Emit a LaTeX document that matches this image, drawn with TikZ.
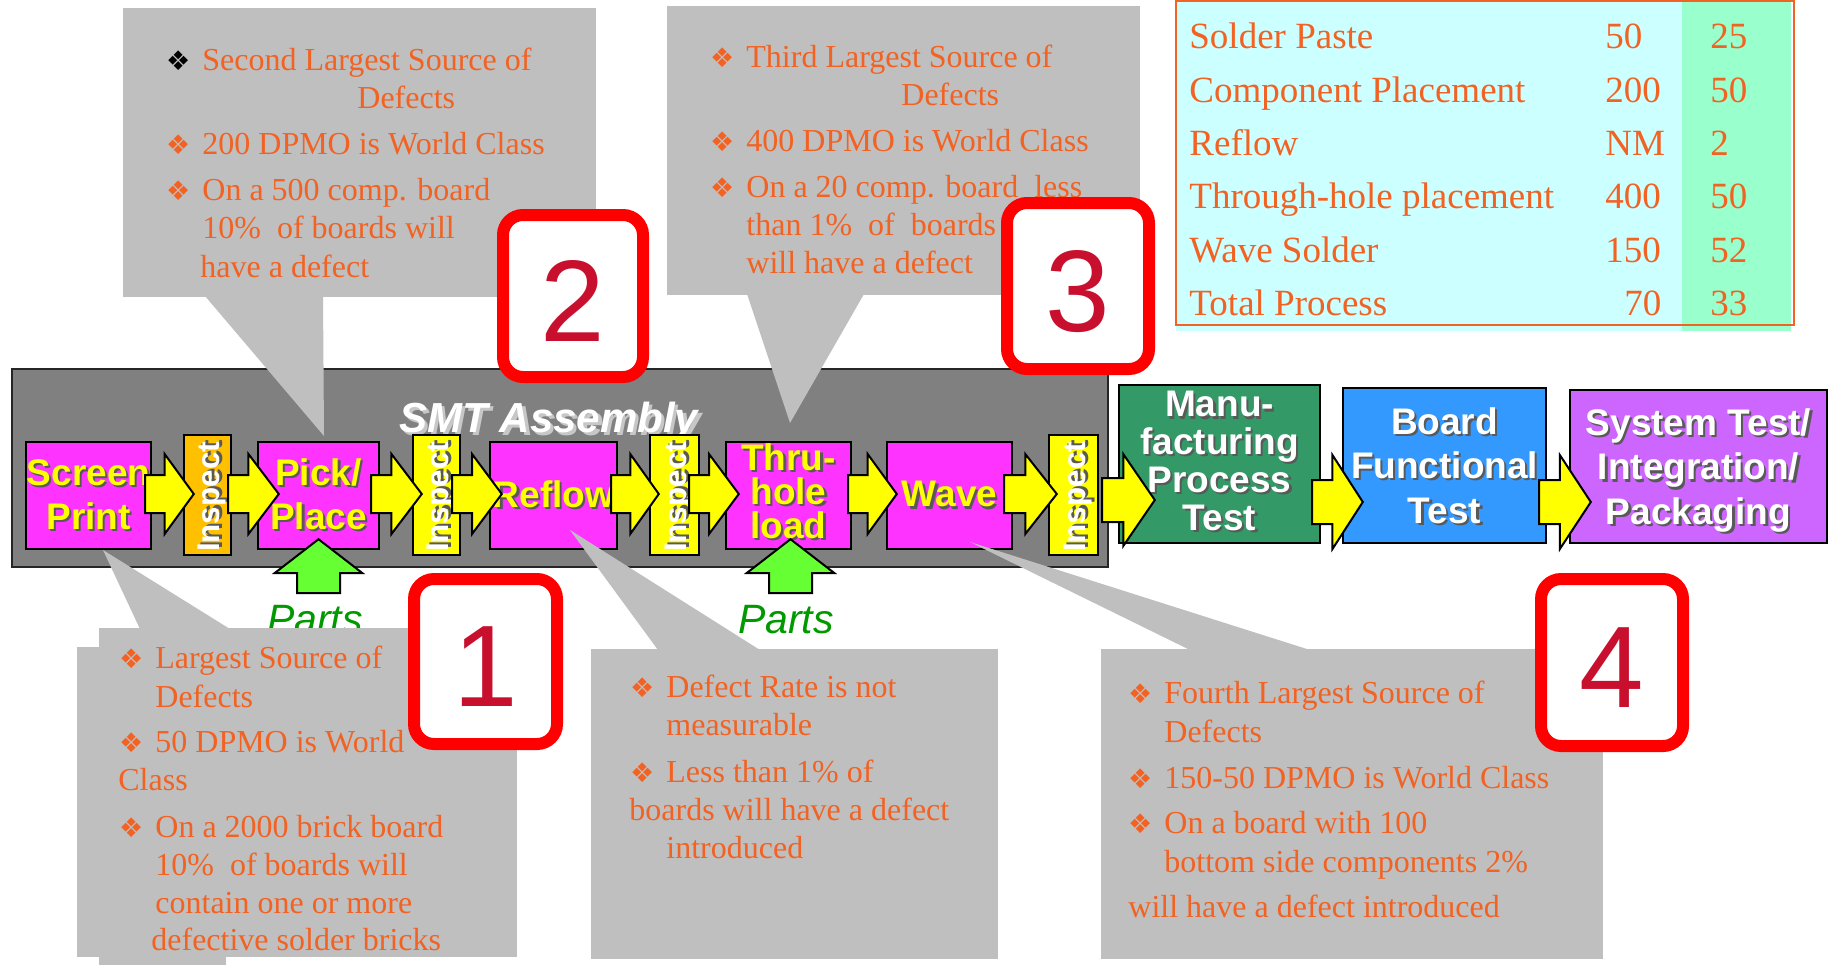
\documentclass[tikz,border=0pt]{standalone}
\usepackage{fontspec}
\setmainfont{Liberation Serif}
\setsansfont{Liberation Sans}
\newfontfamily\dejavu{DejaVu Sans}
\usetikzlibrary{fit,calc}

\definecolor{smtgray}{RGB}{128,128,128}
\definecolor{callgray}{RGB}{191,191,191}
\definecolor{magbox}{RGB}{255,51,255}
\definecolor{inspor}{RGB}{255,192,0}
\definecolor{arryel}{RGB}{255,255,0}
\definecolor{mfgreen}{RGB}{51,153,102}
\definecolor{bfblue}{RGB}{51,153,255}
\definecolor{stpurple}{RGB}{204,102,255}
\definecolor{partsgreen}{RGB}{102,255,51}
\definecolor{partstext}{RGB}{0,153,0}
\definecolor{txtorange}{RGB}{242,98,34}
\definecolor{numred}{RGB}{200,16,46}
\definecolor{tabcyan}{RGB}{204,255,255}
\definecolor{tabgreen}{RGB}{153,255,204}

\newcommand\shd[2][black!65]{\leavevmode\rlap{\kern1.1pt\raisebox{-1.1pt}{\color{#1}#2}}#2}
\newcommand\tshd[1]{\leavevmode\rlap{\kern1.6pt\raisebox{-1.6pt}{\color{black!22}#1}}#1}
\newcommand\bul[1][txtorange]{\llap{\textcolor{#1}{\dejavu\fontsize{13.5}{13.5}\selectfont ❖}\hspace{6pt}}}

\newcommand\rarrow[4]{%
  \draw[blockarr] let \p1=(#1), \p2=(#2), \n1={0.4*(\x2-\x1)} in
  (\x1,\y1+#3) -- ({\x1+\n1*1pt},\y1+#3) -- ({\x1+\n1*1pt},\y1+#4) -- (\x2,\y1)
  -- ({\x1+\n1*1pt},\y1-#4) -- ({\x1+\n1*1pt},\y1-#3) -- (\x1,\y1-#3) -- cycle;}
\newcommand\uarrow[1]{%
  \draw[partsarr] let \p1=(#1) in
  (\x1,\y1) -- (\x1+22pt,\y1-17pt) -- (\x1+10.75pt,\y1-17pt) -- (\x1+10.75pt,\y1-27pt)
  -- (\x1-10.75pt,\y1-27pt) -- (\x1-10.75pt,\y1-17pt) -- (\x1-22pt,\y1-17pt) -- cycle;}

\begin{document}
\begin{tikzpicture}[x=0.5pt,y=-0.5pt,
  smtbox/.style={fill=smtgray, draw=black!85, line width=1.3pt, inner sep=0pt},
  pbox/.style={fill=magbox, draw=black, line width=1.2pt, inner sep=0pt},
  ibox/.style={fill=arryel, draw=black, line width=1.2pt, inner sep=0pt},
  rbox/.style={draw=black, line width=1.2pt, inner sep=0pt},
  ptext/.style={font=\sffamily\bfseries\fontsize{18.5}{22}\selectfont, text=arryel, align=center, inner sep=0pt},
  rtext/.style={font=\sffamily\bfseries\fontsize{18.5}{22.25}\selectfont, text=white, align=center, inner sep=0pt},
  itext/.style={font=\sffamily\bfseries\fontsize{15.7}{18}\selectfont, text=white, rotate=90, inner sep=0pt},
  ctext/.style={anchor=base west, inner sep=0pt, text=txtorange, font=\fontsize{16}{19}\selectfont},
  ttext/.style={anchor=base west, inner sep=0pt, text=txtorange, font=\fontsize{18.5}{22}\selectfont},
  numbox/.style={draw=red, line width=6pt, fill=white, rounded corners=10pt, inner sep=0pt},
  numtext/.style={anchor=base, inner sep=0pt, text=numred, font=\sffamily\fontsize{58}{58}\selectfont},
  blockarr/.style={fill=arryel, draw=black, line width=1pt, line join=miter},
  partsarr/.style={fill=partsgreen, draw=black, line width=1pt, line join=miter},
  partslbl/.style={anchor=base, inner sep=0pt, text=partstext, font=\sffamily\itshape\fontsize{20.5}{20.5}\selectfont}]

\fill[white] (0,0) rectangle (1839,965);
\useasboundingbox (0,0) rectangle (1839,965);

% ---------- table ----------
\fill[tabcyan] (1176,0) rectangle (1791,331);
\fill[tabgreen] (1682,0) rectangle (1791,331);
\draw[txtorange, line width=1pt] (1176,1) rectangle (1794,325);
\node[ttext] (t1a) at (1189,48) {Solder Paste};
\node[ttext] (t1b) at (1605,48) {50};
\node[ttext] (t1c) at (1710,48) {25};
\node[ttext] (t2a) at (1189,102) {Component Placement};
\node[ttext] (t2b) at (1605,102) {200};
\node[ttext] (t2c) at (1710,102) {50};
\node[ttext] (t3a) at (1189,155) {Reflow};
\node[ttext] (t3b) at (1605,155) {NM};
\node[ttext] (t3c) at (1710,155) {2};
\node[ttext] (t4a) at (1189,208) {Through-hole placement};
\node[ttext] (t4b) at (1605,208) {400};
\node[ttext] (t4c) at (1710,208) {50};
\node[ttext] (t5a) at (1189,262) {Wave Solder};
\node[ttext] (t5b) at (1605,262) {150};
\node[ttext] (t5c) at (1710,262) {52};
\node[ttext] (t6a) at (1189,315) {Total Process};
\node[ttext] (t6b) at (1624,315) {70};
\node[ttext] (t6c) at (1710,315) {33};

% ---------- SMT frame ----------
\node[smtbox, fit={(12,369) (1108,567)}] (smt) {};

% ---------- upper callouts ----------
\fill[callgray] (123,8) rectangle (596,297);
\fill[callgray] (205,296) -- (323,296) -- (324,436) -- cycle;
\node[ctext] (c2a) at (202,70) {\bul[black]Second Largest Source of};
\node[ctext] (c2b) at (357,108) {Defects};
\node[ctext] (c2c) at (202,154) {\bul 200 DPMO is World Class};
\node[ctext] (c2d) at (202,200) {\bul On a 500 comp. board};
\node[ctext] (c2e) at (202,238) {10\%~ of boards will};
\node[ctext] (c2f) at (200,277) {have a defect};

\fill[callgray] (667,6) rectangle (1140,295);
\fill[callgray] (747,294) -- (864,294) -- (790,423) -- cycle;
\node[ctext] (c3a) at (746,67) {\bul Third Largest Source of};
\node[ctext] (c3b) at (901,105) {Defects};
\node[ctext] (c3c) at (746,151) {\bul 400 DPMO is World Class};
\node[ctext] (c3d) at (746,197) {\bul On a 20 comp. board~ less};
\node[ctext] (c3e) at (746,235) {than 1\%~ of~ boards};
\node[ctext] (c3f) at (746,273) {will have a defect};

\node[numbox, fit={(503,215) (643,377)}] (n2) {};
\node[numtext] (n2t) at ($(n2.center)+(0,45)$) {2};
\node[numbox, fit={(1007,203) (1149,369)}] (n3) {};
\node[numtext] (n3t) at ($(n3.center)+(0,45)$) {3};

% ---------- title ----------
\node[anchor=base, inner sep=0pt, text=white, font=\sffamily\bfseries\itshape\fontsize{21}{21}\selectfont] (title) at (549,432) {\tshd{SMT Assembly}};

% ---------- process boxes ----------
\node[pbox, fit={(26,442) (151,549)}] (sp) {};
\node[ibox, fill=inspor, fit={(184,435) (231,555)}] (i1) {};
\node[pbox, fit={(258,442) (379,549)}] (pp) {};
\node[ibox, fit={(413,435) (460,555)}] (i2) {};
\node[pbox, fit={(490,442) (617,549)}] (rf) {};
\node[ibox, fit={(650,435) (699,555)}] (i3) {};
\node[pbox, fit={(726,442) (851,549)}] (th) {};
\node[pbox, fit={(887,442) (1012,549)}] (wv) {};
\node[ibox, fit={(1049,435) (1098,555)}] (i4) {};
\node[rbox, fill=mfgreen, fit={(1119,385) (1320,543)}] (mf) {};
\node[rbox, fill=bfblue, fit={(1343,388) (1546,543)}] (bf) {};
\node[rbox, fill=stpurple, fit={(1570,390) (1827,543)}] (st) {};

\node[ptext] (spt) at (sp.center) {\shd{Screen}\\\shd{Print}};
\node[ptext] (ppt) at (pp.center) {\shd{Pick/}\\\shd{Place}};
\node[ptext] (rft) at (rf.center) {\shd{Reflow}};
\node[ptext, font=\sffamily\bfseries\fontsize{18.5}{17}\selectfont] (tht) at ($(th.center)+(0,-3)$) {\shd{Thru-}\\\shd{hole}\\\shd{load}};
\node[ptext] (wvt) at (wv.center) {\shd{Wave}};
\node[itext] (i1t) at ($(i1.center)+(6,2)$) {\shd{Inspect}};
\node[itext] (i2t) at ($(i2.center)+(6,2)$) {\shd{Inspect}};
\node[itext] (i3t) at ($(i3.center)+(6,2)$) {\shd{Inspect}};
\node[itext] (i4t) at ($(i4.center)+(6,2)$) {\shd{Inspect}};
\node[rtext, font=\sffamily\bfseries\fontsize{18.5}{18.85}\selectfont] (mft) at ($(mf.center)+(0,-2)$) {\shd{Manu-}\\\shd{facturing}\\\shd{Process}\\\shd{Test}};
\node[rtext] (bft) at ($(bf.center)+(0,1)$) {\shd{Board}\\\shd{Functional}\\\shd{Test}};
\node[rtext] (stt) at ($(st.center)+(0,5)$) {\shd{System Test/}\\\shd{Integration/}\\\shd{Packaging}};

% ---------- block arrows ----------
\rarrow{$(sp.east)+(-7,-1.5)$}{$(i1.west)+(11,0)$}{9.5pt}{20pt}
\rarrow{$(i1.east)+(-4,-1)$}{$(pp.west)+(22,0)$}{9.5pt}{20pt}
\rarrow{$(pp.east)+(-9,-1.5)$}{$(i2.west)+(10,0)$}{9.5pt}{20pt}
\rarrow{$(i2.east)+(-9,-1)$}{$(rf.west)+(13,0)$}{9.5pt}{20pt}
\rarrow{$(rf.east)+(-7,-1.5)$}{$(i3.west)+(10,0)$}{9.5pt}{20pt}
\rarrow{$(i3.east)+(-11,-1)$}{$(th.west)+(14,0)$}{9.5pt}{20pt}
\rarrow{$(th.east)+(-4,-1.5)$}{$(wv.west)+(11,0)$}{9.5pt}{20pt}
\rarrow{$(wv.east)+(-9,-1.5)$}{$(i4.west)+(9,0)$}{9.5pt}{20pt}
\rarrow{$(i4.east)+(3,5)$}{$(mf.west)+(37,0)$}{11pt}{23pt}
\rarrow{$(mf.east)+(-9,38)$}{$(bf.west)+(21,0)$}{11pt}{23.5pt}
\rarrow{$(bf.east)+(-8,36.5)$}{$(st.west)+(22,0)$}{11pt}{23.5pt}

% ---------- parts ----------
\uarrow{$(pp.south)+(0,-11)$}
\uarrow{$(th.south)+(2,-11)$}
\node[partslbl] (pa1) at (315,633) {Parts};
\node[partslbl] (pa2) at (786,633) {Parts};

% ---------- lower callouts ----------
\fill[callgray] (77,647) rectangle (517,957);
\fill[callgray] (99,628) rectangle (517,648);
\fill[callgray] (99,956) rectangle (226,965);
\fill[callgray] (140,629) -- (230,629) -- (103,550) -- cycle;
\node[ctext] (c1a) at (155,668) {\bul Largest Source of};
\node[ctext] (c1b) at (155,707) {Defects};
\node[ctext] (c1c) at (155,752) {\bul 50 DPMO is World};
\node[ctext] (c1d) at (118,790) {Class};
\node[ctext] (c1e) at (155,837) {\bul On a 2000 brick board};
\node[ctext] (c1f) at (155,875) {10\%~ of boards will};
\node[ctext] (c1g) at (155,913) {contain one or more};
\node[ctext] (c1h) at (151,950) {defective solder bricks};

\fill[callgray] (591,649) rectangle (998,959);
\fill[callgray] (658,650) -- (760,650) -- (570,530) -- cycle;
\node[ctext] (cra) at (666,697) {\bul Defect Rate is not};
\node[ctext] (crb) at (666,735) {measurable};
\node[ctext] (crc) at (666,782) {\bul Less than 1\% of};
\node[ctext] (crd) at (629,820) {boards will have a defect};
\node[ctext] (cre) at (666,858) {introduced};

\fill[callgray] (1101,649) rectangle (1603,959);
\fill[callgray] (1190,650) -- (1310,650) -- (970,542) -- cycle;
\node[ctext] (c4a) at (1164,703) {\bul Fourth Largest Source of};
\node[ctext] (c4b) at (1164,742) {Defects};
\node[ctext] (c4c) at (1164,788) {\bul 150-50 DPMO is World Class};
\node[ctext] (c4d) at (1164,833) {\bul On a board with 100};
\node[ctext] (c4e) at (1164,872) {bottom side components 2\%};
\node[ctext] (c4f) at (1128,917) {will have a defect introduced};

\node[numbox, fit={(414,579) (557,744)}] (n1) {};
\node[numtext] (n1t) at ($(n1.center)+(0,45)$) {1};
\node[numbox, fit={(1541,579) (1683,746)}] (n4) {};
\node[numtext] (n4t) at ($(n4.center)+(0,45)$) {4};
\end{tikzpicture}
\end{document}
